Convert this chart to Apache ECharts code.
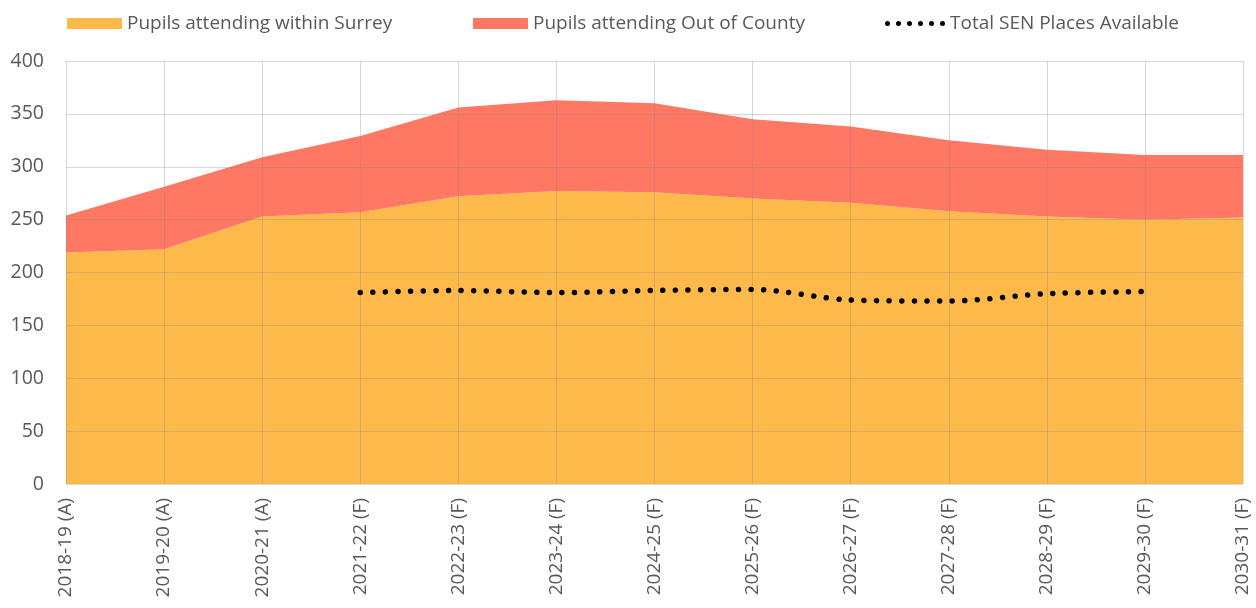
<!DOCTYPE html>
<html lang="en">
<head>
    <meta charset="UTF-8">
    <title>SEN places</title>
    <script src="https://cdn.jsdelivr.net/npm/echarts@6/dist/echarts.min.js"></script>
</head>
<body style="margin:0">
<div id="main" style="width: 1256px;height:608px;"></div>
<script type="text/javascript">
    // data
    var years = ['2018-19 (A)', '2019-20 (A)', '2020-21 (A)', '2021-22 (F)', '2022-23 (F)', '2023-24 (F)',
        '2024-25 (F)', '2025-26 (F)', '2026-27 (F)', '2027-28 (F)', '2028-29 (F)', '2029-30 (F)', '2030-31 (F)'];
    var withinSurrey = [219, 222, 253, 257, 272, 277, 276, 270, 266, 258, 253, 250, 252];
    var outOfCounty = [35, 59, 56, 72, 84, 86, 84, 75, 72, 67, 63, 61, 59];
    var senPlaces = ['-', '-', '-', 181, 183, 181, 183, 184, 174, 173, 180, 182, '-'];

    var textColor = '#595959';
    var font = 'Open Sans';

    // six dots for the legend icon of the dotted line
    var dotsPath = 'path://';
    for (var i = 0; i < 6; i++) {
        var cx = 2.5 + i * 11;
        dotsPath += 'M' + (cx - 2.5) + ',2.5 A2.5,2.5 0 1,1 ' + (cx + 2.5) + ',2.5 A2.5,2.5 0 1,1 ' + (cx - 2.5) + ',2.5 Z ';
    }

    var legendText = {color: textColor, fontSize: 19, fontFamily: font};

    var myChart = echarts.init(document.getElementById('main'));
    var option = {
        backgroundColor: '#fff',
        animation: false,
        legend: [
            {
                left: 62, top: 9,
                itemWidth: 55, itemHeight: 11, itemGap: 5,
                textStyle: legendText,
                data: [{name: 'Pupils attending within Surrey', icon: 'rect'}]
            },
            {
                left: 468, top: 9,
                itemWidth: 55, itemHeight: 11, itemGap: 5,
                textStyle: legendText,
                data: [{name: 'Pupils attending Out of County', icon: 'rect'}]
            },
            {
                left: 880, top: 9,
                itemWidth: 60, itemHeight: 5, itemGap: 2,
                textStyle: legendText,
                data: [{name: 'Total SEN Places Available', icon: dotsPath, itemStyle: {color: '#000'}}]
            }
        ],
        grid: {
            left: 66,
            right: 13,
            top: 61,
            bottom: 124
        },
        xAxis: {
            type: 'category',
            boundaryGap: false,
            data: years,
            z: 5,
            axisLine: {show: false},
            axisTick: {show: false},
            axisLabel: {
                rotate: 90,
                margin: 14,
                interval: 0,
                color: textColor,
                fontSize: 19,
                fontFamily: font
            },
            splitLine: {show: true, lineStyle: {color: 'rgba(128,128,128,0.3)', width: 1}}
        },
        yAxis: {
            type: 'value',
            min: 0,
            max: 400,
            interval: 50,
            z: 5,
            axisLine: {show: false},
            axisTick: {show: false},
            axisLabel: {color: textColor, fontSize: 19.5, fontFamily: font, margin: 22},
            splitLine: {lineStyle: {color: 'rgba(128,128,128,0.3)', width: 1}}
        },
        series: [
            {
                name: 'Pupils attending within Surrey',
                type: 'line',
                stack: 'total',
                symbol: 'none',
                lineStyle: {width: 0},
                itemStyle: {color: '#FDBA4B'},
                areaStyle: {color: '#FDBA4B', opacity: 1},
                data: withinSurrey
            },
            {
                name: 'Pupils attending Out of County',
                type: 'line',
                stack: 'total',
                symbol: 'none',
                lineStyle: {width: 0},
                itemStyle: {color: '#FF7863'},
                areaStyle: {color: '#FF7863', opacity: 1},
                data: outOfCounty
            },
            {
                name: 'Total SEN Places Available',
                type: 'line',
                symbol: 'none',
                smooth: 0.3,
                z: 10,
                itemStyle: {color: '#000'},
                lineStyle: {color: '#000', width: 5.5, type: [0.01, 12.6], cap: 'round'},
                data: senPlaces
            }
        ]
    };
    myChart.setOption(option);
</script>
</body>
</html>
